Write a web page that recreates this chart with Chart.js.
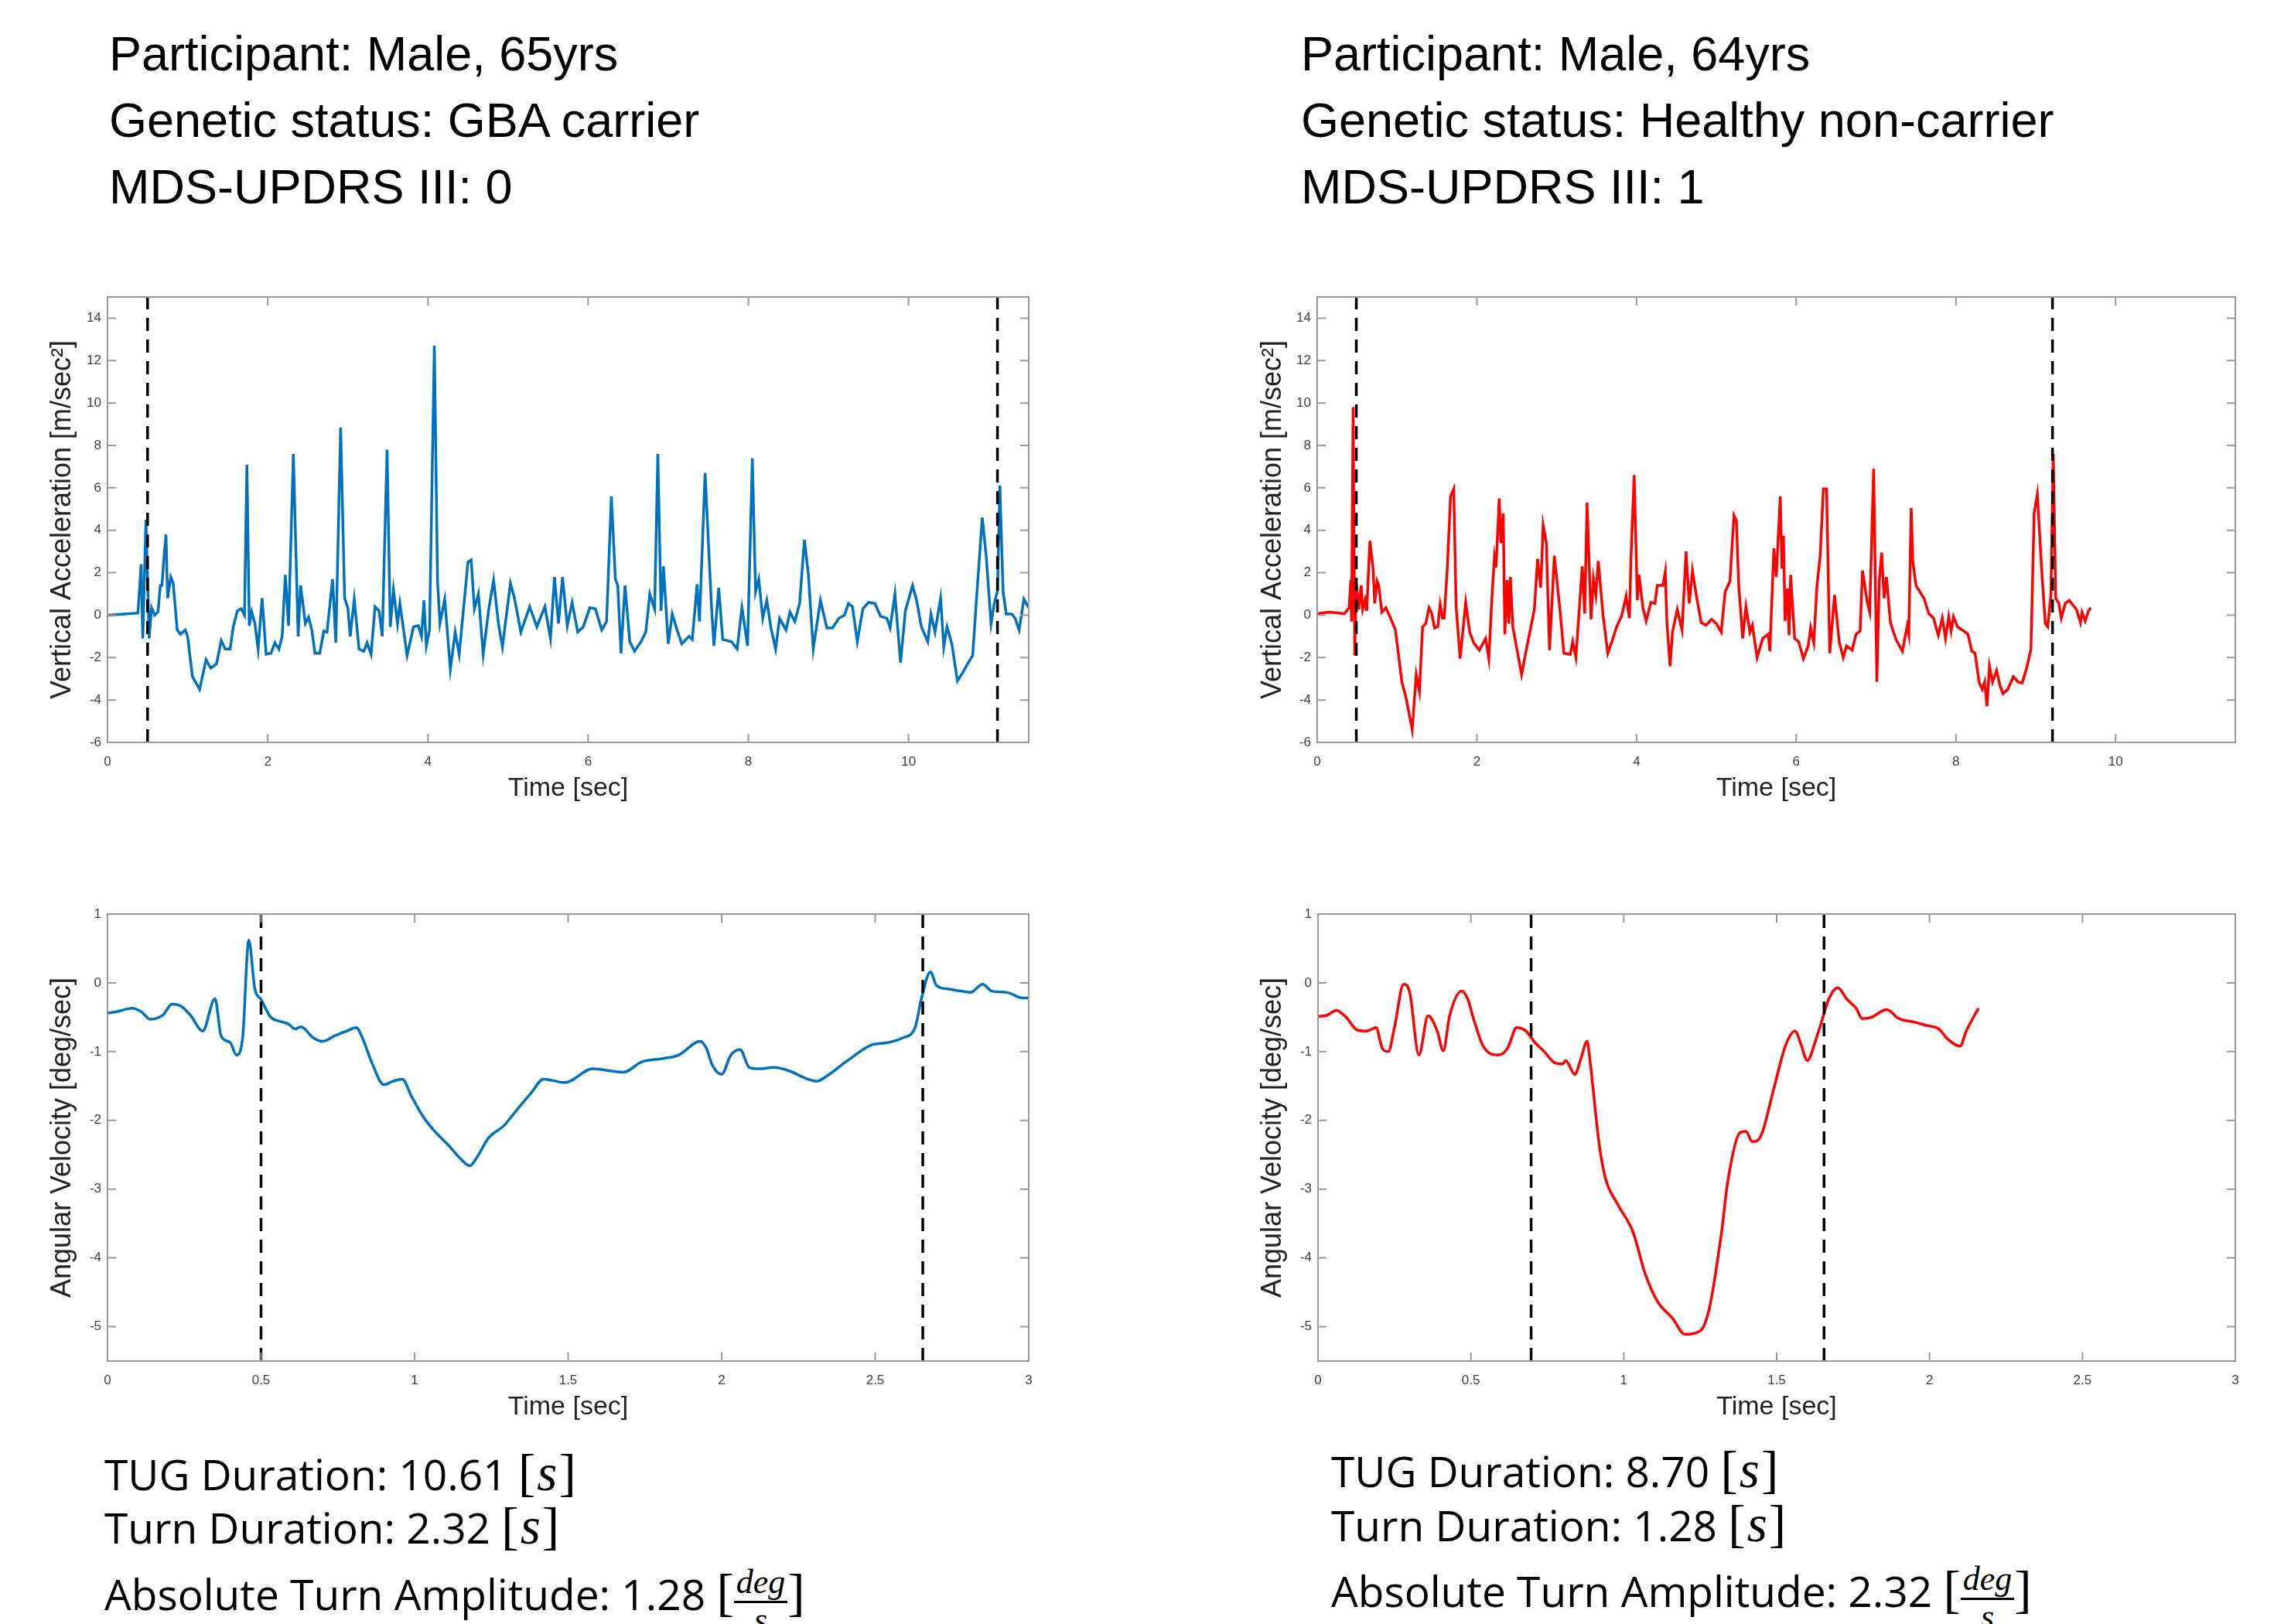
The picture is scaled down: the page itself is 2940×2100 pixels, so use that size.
<!DOCTYPE html>
<html>
<head>
<meta charset="utf-8">
<script src="https://cdn.jsdelivr.net/npm/chart.js@4.4.1/dist/chart.umd.min.js"></script>
<style>
  html, body { margin:0; padding:0; background:#fff; }
  body { width:2940px; height:2100px; position:relative; overflow:hidden; }
  canvas { position:absolute; }
  .head { position:absolute; top:26px; font-family:'Liberation Sans', Arial, sans-serif; font-size:63px; line-height:86px; color:#000; white-space:nowrap; }
  .stats { position:absolute; font-family:'Open Sans', sans-serif; font-size:55px; color:#000; }
  .stats div { position:absolute; left:0; white-space:nowrap; line-height:60px; }
  .m { font-family:'Liberation Serif', 'DejaVu Serif', serif; font-size:1.22em; }
  .m i { font-style:italic; padding:0 2px; }
  .br { font-family:'Liberation Serif', serif; font-size:1.22em; }
  .frac { display:inline-flex; flex-direction:column; align-items:center; vertical-align:0.5em; font-family:'Liberation Serif', serif; font-style:italic; font-size:0.8em; line-height:1.0; }
  .frac .num { border-bottom:3px solid #000; padding:0 3px 2px 3px; }
</style>
</head>
<body>

<div class="head" style="left:141px">Participant: Male, 65yrs<br>Genetic status: GBA carrier<br>MDS-UPDRS III: 0</div>
<div class="head" style="left:1682px">Participant: Male, 64yrs<br>Genetic status: Healthy non-carrier<br>MDS-UPDRS III: 1</div>

<canvas id="accLeft" width="1360" height="730" style="left:0px;top:330px"></canvas>
<canvas id="accRight" width="1360" height="730" style="left:1560px;top:330px"></canvas>
<canvas id="gyrLeft" width="1360" height="730" style="left:0px;top:1130px"></canvas>
<canvas id="gyrRight" width="1360" height="730" style="left:1560px;top:1130px"></canvas>

<div class="stats" style="left:135px;top:1875px">
  <div style="top:0px">TUG Duration: 10.61 <span class="m">[<i>s</i>]</span></div>
  <div style="top:69px">Turn Duration: 2.32 <span class="m">[<i>s</i>]</span></div>
  <div style="top:149px">Absolute Turn Amplitude: 1.28 <span class="br">[</span><span class="frac"><span class="num">deg</span><span>s</span></span><span class="br">]</span></div>
</div>
<div class="stats" style="left:1721px;top:1871px">
  <div style="top:0px">TUG Duration: 8.70 <span class="m">[<i>s</i>]</span></div>
  <div style="top:70px">Turn Duration: 1.28 <span class="m">[<i>s</i>]</span></div>
  <div style="top:149px">Absolute Turn Amplitude: 2.32 <span class="br">[</span><span class="frac"><span class="num">deg</span><span>s</span></span><span class="br">]</span></div>
</div>

<script>
// vertical acceleration [m/sec^2] over time [sec]
var accGba = [[0,0],[0.21,0.05],[0.38,0.1],[0.42,2.4],[0.44,-1.1],[0.48,4.5],[0.52,-1.1],[0.55,0.35],[0.59,0],[0.63,0.15],[0.66,1.4],[0.68,1.4],[0.70,2.5],[0.73,3.8],[0.75,0.8],[0.79,1.8],[0.82,1.5],[0.87,-0.7],[0.91,-0.9],[0.97,-0.7],[1.00,-1.0],[1.06,-2.9],[1.15,-3.5],[1.23,-2.1],[1.29,-2.5],[1.36,-2.3],[1.42,-1.2],[1.47,-1.6],[1.53,-1.6],[1.57,-0.55],[1.62,0.2],[1.67,0.3],[1.71,0],[1.74,7.1],[1.77,-0.5],[1.80,0.15],[1.84,-0.4],[1.88,-1.6],[1.93,0.8],[1.98,-1.85],[2.04,-1.8],[2.09,-1.3],[2.14,-1.6],[2.18,-1.0],[2.22,1.9],[2.26,-0.5],[2.32,7.6],[2.38,-1.0],[2.41,1.4],[2.47,-0.4],[2.51,-0.1],[2.55,-0.7],[2.59,-1.8],[2.65,-1.8],[2.70,-0.75],[2.74,-0.8],[2.81,1.7],[2.85,-1.3],[2.91,8.85],[2.96,0.8],[3.00,0.35],[3.03,-1.0],[3.08,0.75],[3.14,-1.6],[3.20,-1.7],[3.24,-1.3],[3.29,-1.85],[3.34,0.4],[3.39,0.2],[3.43,-1.0],[3.49,7.8],[3.53,-0.55],[3.57,1.2],[3.62,-0.4],[3.65,0.55],[3.69,-0.55],[3.74,-1.9],[3.82,-0.55],[3.88,-0.5],[3.92,-1.0],[3.95,0.7],[3.98,-1.45],[4.02,-0.7],[4.08,12.7],[4.12,1.6],[4.15,-0.4],[4.21,0.75],[4.28,-2.55],[4.34,-0.8],[4.39,-1.85],[4.50,2.5],[4.54,2.6],[4.58,0.3],[4.63,1.0],[4.69,-1.85],[4.76,0.3],[4.82,1.65],[4.88,-0.4],[4.93,-1.5],[5.03,1.5],[5.08,0.8],[5.16,-0.8],[5.27,0.4],[5.36,-0.55],[5.46,0.4],[5.53,-1.1],[5.58,1.8],[5.63,-0.4],[5.68,1.8],[5.74,-0.5],[5.80,0.6],[5.87,-0.8],[5.94,-0.55],[6.02,0.35],[6.09,0.3],[6.17,-0.7],[6.23,-0.3],[6.29,5.6],[6.34,1.7],[6.37,1.4],[6.41,-1.8],[6.46,1.4],[6.52,-1.25],[6.58,-1.7],[6.66,-1.25],[6.72,-0.8],[6.77,1.0],[6.83,0.3],[6.87,7.6],[6.91,0.2],[6.94,2.3],[7.00,-1.35],[7.05,0.05],[7.11,-0.7],[7.17,-1.35],[7.26,-1.0],[7.30,-1.15],[7.36,1.45],[7.39,-0.3],[7.46,6.7],[7.51,2.75],[7.54,0.4],[7.57,-1.45],[7.63,1.3],[7.68,-1.15],[7.79,-1.25],[7.86,-1.6],[7.92,0.35],[7.99,-1.45],[8.05,7.4],[8.09,1.1],[8.13,1.7],[8.18,-0.15],[8.23,0.7],[8.28,-0.55],[8.34,-1.6],[8.39,-0.15],[8.47,-0.7],[8.52,0.15],[8.58,-0.3],[8.64,0.55],[8.70,3.55],[8.75,1.9],[8.81,-1.6],[8.90,0.7],[8.98,-0.6],[9.05,-0.6],[9.13,-0.15],[9.20,0],[9.25,0.55],[9.30,0.4],[9.36,-1.25],[9.43,0.3],[9.50,0.6],[9.58,0.55],[9.65,-0.05],[9.73,-0.15],[9.77,-0.6],[9.83,1.0],[9.90,-2.25],[9.96,0.2],[10.05,1.4],[10.10,0.7],[10.16,-0.55],[10.24,-1.25],[10.28,0.05],[10.33,-0.8],[10.40,0.8],[10.44,-1.5],[10.48,-0.55],[10.54,-1.35],[10.61,-3.1],[10.67,-2.75],[10.73,-2.35],[10.80,-1.9],[10.86,1.4],[10.92,4.6],[10.97,2.75],[11.03,-0.4],[11.07,0.55],[11.11,1.15],[11.14,6.1],[11.18,1.1],[11.22,0.05],[11.29,0.05],[11.33,-0.15],[11.38,-0.7],[11.44,0.75],[11.50,0.35]];

var accHealthy = [[0,0.07],[0.15,0.14],[0.34,0.07],[0.40,0.35],[0.42,1.65],[0.43,-0.3],[0.45,9.8],[0.47,-1.9],[0.49,1.5],[0.52,0.27],[0.55,1.4],[0.57,0.27],[0.60,0.7],[0.62,0.2],[0.66,3.5],[0.70,2.2],[0.72,0.55],[0.75,1.6],[0.77,1.4],[0.81,0.14],[0.86,0.35],[0.91,-0.07],[0.98,-0.7],[1.06,-3.15],[1.11,-3.85],[1.19,-5.4],[1.24,-2.8],[1.28,-3.6],[1.32,-0.55],[1.36,-0.4],[1.40,0.35],[1.43,0.14],[1.47,-0.6],[1.51,-0.55],[1.54,0.5],[1.57,-0.14],[1.59,-0.14],[1.63,2.25],[1.67,5.6],[1.71,5.95],[1.74,0.4],[1.79,-2.05],[1.86,0.6],[1.91,-0.8],[1.96,-1.3],[2.03,-1.65],[2.11,-1.1],[2.15,-2.05],[2.19,0.95],[2.22,2.75],[2.24,2.25],[2.28,5.5],[2.30,3.4],[2.33,4.8],[2.35,-0.9],[2.38,1.65],[2.40,-0.4],[2.42,1.8],[2.45,-0.55],[2.56,-2.8],[2.61,-1.8],[2.72,0.27],[2.76,2.65],[2.80,1.3],[2.83,4.25],[2.87,3.4],[2.91,-1.65],[2.97,2.8],[3.04,0.27],[3.09,-1.8],[3.17,-1.85],[3.20,-1.25],[3.24,-2.0],[3.32,2.3],[3.35,0.07],[3.38,5.3],[3.43,-0.2],[3.46,1.7],[3.49,0.95],[3.52,2.55],[3.58,0],[3.64,-1.8],[3.70,-1.15],[3.75,-0.55],[3.81,-0.07],[3.87,0.9],[3.91,-0.14],[3.93,2.65],[3.97,6.6],[4.01,0.7],[4.03,1.9],[4.08,0.35],[4.12,-0.27],[4.18,0.6],[4.23,0.55],[4.26,1.4],[4.33,1.4],[4.36,2.05],[4.38,-0.35],[4.42,-2.4],[4.45,-0.8],[4.51,0.27],[4.57,-0.7],[4.62,3.0],[4.66,0.55],[4.70,2.1],[4.75,0.9],[4.81,-0.35],[4.87,-0.48],[4.94,-0.2],[5.00,-0.4],[5.06,-0.8],[5.11,1.1],[5.17,1.6],[5.22,4.7],[5.25,4.45],[5.28,1.4],[5.33,-1.1],[5.37,0.4],[5.42,-0.8],[5.45,-0.48],[5.51,-2.0],[5.58,-1.1],[5.65,-0.9],[5.67,-1.7],[5.72,3.15],[5.75,1.8],[5.80,5.6],[5.82,2.2],[5.84,3.75],[5.86,-0.27],[5.89,1.25],[5.91,-0.95],[5.93,1.9],[5.98,-1.1],[6.03,-1.25],[6.09,-2.05],[6.15,-1.45],[6.18,-0.6],[6.22,-1.3],[6.26,1.4],[6.30,2.8],[6.34,5.95],[6.38,5.95],[6.42,-1.8],[6.48,0.95],[6.54,-1.3],[6.59,-2.0],[6.63,-1.45],[6.70,-1.65],[6.75,-0.9],[6.80,-0.75],[6.83,2.1],[6.89,0.6],[6.92,0.14],[6.97,6.9],[7.01,-3.15],[7.04,1.6],[7.07,2.95],[7.10,0.8],[7.13,1.8],[7.18,-0.35],[7.25,-1.15],[7.33,-1.7],[7.39,-0.5],[7.41,-0.9],[7.44,5.05],[7.46,2.55],[7.50,1.4],[7.54,1.15],[7.60,0.8],[7.66,0.07],[7.72,-0.14],[7.78,-0.95],[7.83,-0.14],[7.87,-1.1],[7.91,-0.07],[7.94,-0.75],[7.97,-0.07],[8.02,-0.55],[8.10,-0.75],[8.15,-0.9],[8.20,-1.7],[8.24,-1.8],[8.29,-3.15],[8.33,-3.5],[8.36,-3.15],[8.39,-4.3],[8.42,-2.4],[8.46,-3.15],[8.51,-2.6],[8.55,-3.3],[8.59,-3.7],[8.65,-3.5],[8.72,-2.9],[8.78,-3.15],[8.83,-3.2],[8.89,-2.45],[8.94,-1.6],[8.98,4.8],[9.02,5.7],[9.08,1.8],[9.12,-0.4],[9.15,-0.55],[9.19,0.95],[9.22,7.6],[9.25,0.8],[9.29,0.55],[9.32,-0.14],[9.37,0.55],[9.42,0.7],[9.45,0.55],[9.51,0.27],[9.56,-0.35],[9.58,0.14],[9.62,-0.27],[9.66,0.2],[9.69,0.35]];

// angular velocity [deg/sec] around the turn
var gyrGba = [[0,-0.44],[0.03,-0.42],[0.08,-0.37],[0.11,-0.42],[0.14,-0.53],[0.18,-0.47],[0.21,-0.31],[0.24,-0.34],[0.27,-0.47],[0.31,-0.70],[0.35,-0.23],[0.37,-0.77],[0.40,-0.87],[0.42,-1.05],[0.44,-0.80],[0.46,0.62],[0.48,-0.09],[0.50,-0.24],[0.53,-0.49],[0.57,-0.57],[0.59,-0.60],[0.61,-0.67],[0.63,-0.64],[0.67,-0.80],[0.70,-0.85],[0.74,-0.77],[0.78,-0.70],[0.81,-0.65],[0.83,-0.80],[0.86,-1.15],[0.90,-1.48],[0.93,-1.43],[0.96,-1.40],[0.99,-1.65],[1.03,-1.96],[1.07,-2.18],[1.11,-2.36],[1.15,-2.56],[1.18,-2.66],[1.20,-2.56],[1.24,-2.26],[1.29,-2.08],[1.34,-1.81],[1.38,-1.60],[1.42,-1.40],[1.49,-1.45],[1.58,-1.25],[1.68,-1.30],[1.74,-1.15],[1.81,-1.10],[1.86,-1.05],[1.93,-0.85],[1.95,-0.95],[1.97,-1.20],[2.00,-1.33],[2.03,-1.05],[2.06,-0.97],[2.09,-1.23],[2.12,-1.25],[2.17,-1.23],[2.22,-1.28],[2.27,-1.38],[2.31,-1.43],[2.35,-1.33],[2.41,-1.13],[2.49,-0.90],[2.54,-0.87],[2.59,-0.80],[2.63,-0.65],[2.65,-0.24],[2.68,0.16],[2.70,-0.04],[2.74,-0.09],[2.78,-0.12],[2.81,-0.14],[2.85,-0.02],[2.88,-0.12],[2.93,-0.14],[2.98,-0.22],[3.00,-0.22]];

var gyrHealthy = [[0,-0.49],[0.03,-0.47],[0.06,-0.40],[0.09,-0.49],[0.13,-0.69],[0.16,-0.70],[0.19,-0.65],[0.21,-0.95],[0.23,-1.0],[0.25,-0.65],[0.28,-0.02],[0.30,-0.14],[0.33,-1.05],[0.36,-0.48],[0.39,-0.70],[0.41,-0.99],[0.43,-0.49],[0.47,-0.12],[0.49,-0.24],[0.51,-0.54],[0.54,-0.92],[0.59,-1.05],[0.62,-0.95],[0.65,-0.65],[0.68,-0.70],[0.71,-0.87],[0.74,-1.00],[0.77,-1.15],[0.80,-1.18],[0.81,-1.13],[0.84,-1.33],[0.86,-1.10],[0.88,-0.85],[0.89,-1.15],[0.92,-2.36],[0.94,-2.84],[0.98,-3.22],[1.03,-3.62],[1.07,-4.23],[1.11,-4.63],[1.16,-4.88],[1.20,-5.11],[1.25,-5.06],[1.28,-4.73],[1.32,-3.62],[1.34,-2.89],[1.38,-2.18],[1.40,-2.16],[1.42,-2.31],[1.45,-2.21],[1.49,-1.55],[1.53,-0.90],[1.56,-0.70],[1.58,-0.90],[1.60,-1.13],[1.63,-0.80],[1.65,-0.52],[1.67,-0.24],[1.70,-0.07],[1.73,-0.24],[1.76,-0.37],[1.78,-0.52],[1.81,-0.50],[1.86,-0.39],[1.90,-0.52],[1.95,-0.57],[1.99,-0.62],[2.03,-0.67],[2.06,-0.82],[2.10,-0.92],[2.12,-0.70],[2.16,-0.37]];

// event markers (dashed lines) [sec]
var tugGba = [0.5, 11.11];
var tugHealthy = [0.49, 9.21];
var turnGba = [0.5, 2.655];
var turnHealthy = [0.697, 1.655];

var blue = '#0072BD';
var red = '#FF0000';
var tickFont = "'Liberation Sans Narrow', 'Liberation Sans', sans-serif";

// caixa estilo matlab com ticks para dentro
var boxPlugin = {
  id: 'boxPlugin',
  afterDatasetsDraw: function(chart) {
    var ctx = chart.ctx, a = chart.chartArea, sx = chart.scales.x, sy = chart.scales.y;
    ctx.save();
    ctx.strokeStyle = '#9a9a9a';
    ctx.lineWidth = 2;
    ctx.strokeRect(a.left, a.top, a.right - a.left, a.bottom - a.top);
    ctx.beginPath();
    sx.ticks.forEach(function(t) {
      var px = sx.getPixelForValue(t.value);
      ctx.moveTo(px, a.bottom); ctx.lineTo(px, a.bottom - 11);
      ctx.moveTo(px, a.top); ctx.lineTo(px, a.top + 11);
    });
    sy.ticks.forEach(function(t) {
      var py = sy.getPixelForValue(t.value);
      ctx.moveTo(a.left, py); ctx.lineTo(a.left + 11, py);
      ctx.moveTo(a.right, py); ctx.lineTo(a.right - 11, py);
    });
    ctx.stroke();
    ctx.restore();
  }
};

function makeChart(id, series, color, marks, xr, yr, yTitle, pad, smooth) {
  var sets = [];
  marks.forEach(function(m) {
    sets.push({
      data: [{x: m, y: yr[0]}, {x: m, y: yr[1]}],
      borderColor: '#000', borderWidth: 3.5, borderDash: [17, 11],
      pointRadius: 0, order: 0
    });
  });
  sets.push({
    data: series.map(function(p) { return {x: p[0], y: p[1]}; }),
    borderColor: color, borderWidth: 3.5, pointRadius: 0, order: 1,
    cubicInterpolationMode: smooth ? 'monotone' : 'default', tension: 0
  });
  return new Chart(document.getElementById(id), {
    type: 'line',
    data: { datasets: sets },
    plugins: [boxPlugin],
    options: {
      responsive: false,
      animation: false,
      layout: { padding: { top: pad.t, right: pad.r, left: 0, bottom: 0 } },
      plugins: { legend: { display: false }, tooltip: { enabled: false } },
      scales: {
        x: {
          type: 'linear', min: xr[0], max: xr[1],
          grid: { display: false, drawTicks: false },
          border: { display: false },
          ticks: { stepSize: xr[2], includeBounds: false, autoSkip: false, maxRotation: 0, padding: 15,
                   font: { family: tickFont, size: 17 }, color: '#404040',
                   callback: function(v) { return String(Math.round(v * 100) / 100); } },
          title: { display: true, text: 'Time [sec]', color: '#222',
                   font: { family: tickFont, size: 34 }, padding: { top: 0, bottom: 20 } },
          afterFit: function(s) { s.height = pad.b; }
        },
        y: {
          type: 'linear', min: yr[0], max: yr[1],
          grid: { display: false, drawTicks: false },
          border: { display: false },
          ticks: { stepSize: yr[2], includeBounds: false, autoSkip: false, padding: 8,
                   font: { family: tickFont, size: 17 }, color: '#404040' },
          title: { display: true, text: yTitle, color: '#222',
                   font: { family: tickFont, size: 36 }, padding: { top: pad.yt, bottom: 0 } },
          afterFit: function(s) { s.width = pad.l; }
        }
      }
    }
  });
}

// canvas 1360 largo: margem direita = 1360 - borda direita da caixa
makeChart('accLeft', accGba, blue, tugGba, [0, 11.5, 2], [-6, 15, 2],
  'Vertical Acceleration [m/sec\u00B2]', {t: 54, r: 30, b: 100, l: 139, yt: 59}, false);
makeChart('accRight', accHealthy, red, tugHealthy, [0, 11.5, 2], [-6, 15, 2],
  'Vertical Acceleration [m/sec\u00B2]', {t: 54, r: 30, b: 100, l: 143, yt: 64}, false);
makeChart('gyrLeft', gyrGba, blue, turnGba, [0, 3, 0.5], [-5.5, 1, 1],
  'Angular Velocity [deg/sec]', {t: 52, r: 30, b: 100, l: 139, yt: 59}, true);
makeChart('gyrRight', gyrHealthy, red, turnHealthy, [0, 3, 0.5], [-5.5, 1, 1],
  'Angular Velocity [deg/sec]', {t: 52, r: 30, b: 100, l: 144, yt: 64}, true);
</script>
</body>
</html>
